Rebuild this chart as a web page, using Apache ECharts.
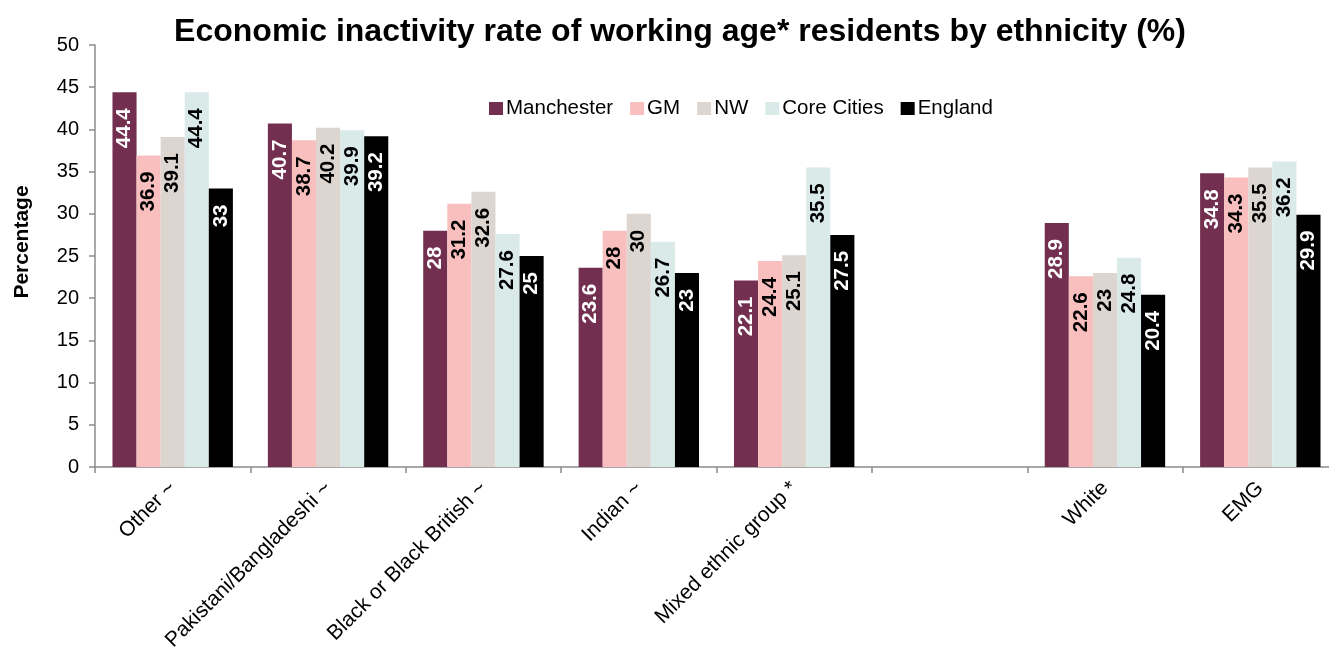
<!DOCTYPE html>
<html>
<head>
<meta charset="utf-8">
<script src="https://cdn.jsdelivr.net/npm/echarts@6/dist/echarts.min.js"></script>
<style>
  html, body { margin: 0; padding: 0; background: #fff; }
  #chart { width: 1329px; height: 650px; }
</style>
</head>
<body>
<div id="chart"></div>
<script>
// Ethnic groups on the x axis (blank slot separates the two comparison blocks)
const categories = ['Other ~', 'Pakistani/Bangladeshi ~', 'Black or Black British ~', 'Indian ~', 'Mixed ethnic group *', '', 'White', 'EMG'];

// Economic inactivity rate (%) by area
const manchester = [44.4, 40.7, 28, 23.6, 22.1, null, 28.9, 34.8];
const gm         = [36.9, 38.7, 31.2, 28, 24.4, null, 22.6, 34.3];
const nw         = [39.1, 40.2, 32.6, 30, 25.1, null, 23, 35.5];
const coreCities = [44.4, 39.9, 27.6, 26.7, 35.5, null, 24.8, 36.2];
const england    = [33, 39.2, 25, 23, 27.5, null, 20.4, 29.9];

const seriesNames = ['Manchester', 'GM', 'NW', 'Core Cities', 'England'];
const seriesData = [manchester, gm, nw, coreCities, england];
const seriesColors = ['#722F50', '#F9BEBE', '#DDD5D0', '#D9EAE8', '#000000'];
const labelColors = ['#ffffff', '#000000', '#000000', '#000000', '#ffffff'];

const FONT = '"Liberation Sans", Arial, sans-serif';

const chart = echarts.init(document.getElementById('chart'), null, { renderer: 'canvas' });

chart.setOption({
  animation: false,
  backgroundColor: '#ffffff',
  title: {
    text: 'Economic inactivity rate of working age* residents by ethnicity (%)',
    left: 675,
    textAlign: 'center',
    top: 11,
    textStyle: { fontFamily: FONT, fontSize: 32, fontWeight: 'bold', color: '#000' }
  },
  legend: {
    data: seriesNames,
    left: 484,
    top: 93,
    itemWidth: 14,
    itemHeight: 13,
    itemGap: 17,
    icon: 'rect',
    textStyle: { fontFamily: FONT, fontSize: 20.5, color: '#000', padding: [0, 0, 0, -2] }
  },
  graphic: [{
    type: 'text',
    x: 22,
    y: 242,
    rotation: Math.PI / 2,
    style: {
      text: 'Percentage',
      font: 'bold 21px "Liberation Sans", Arial, sans-serif',
      fill: '#000',
      align: 'center',
      verticalAlign: 'middle'
    }
  }],
  grid: { left: 95, width: 1243, top: 45, height: 422, outerBoundsMode: 'none', containLabel: false },
  xAxis: {
    type: 'category',
    data: categories,
    axisLine: { lineStyle: { color: '#8c8c8c', width: 1.5 } },
    axisTick: { show: true, length: 6, lineStyle: { color: '#8c8c8c', width: 1.5 } },
    axisLabel: {
      interval: 0,
      rotate: 45,
      margin: 18,
      fontFamily: FONT,
      fontSize: 21,
      color: '#000'
    }
  },
  yAxis: {
    type: 'value',
    min: 0,
    max: 50,
    interval: 5,
    splitLine: { show: false },
    axisLine: { show: true, lineStyle: { color: '#8c8c8c', width: 1.5 } },
    axisTick: { show: true, length: 6, lineStyle: { color: '#8c8c8c', width: 1.5 } },
    axisLabel: { fontFamily: FONT, fontSize: 20, color: '#000', margin: 16 }
  },
  series: seriesNames.map((name, i) => ({
    name: name,
    type: 'bar',
    data: seriesData[i],
    barGap: '0%',
    barCategoryGap: '22.5%',
    itemStyle: { color: seriesColors[i] },
    label: {
      show: true,
      position: 'insideTop',
      rotate: 90,
      align: 'right',
      verticalAlign: 'middle',
      distance: 16,
      fontFamily: FONT,
      fontSize: 20.5,
      fontWeight: 'bold',
      color: labelColors[i]
    }
  }))
});
</script>
</body>
</html>
